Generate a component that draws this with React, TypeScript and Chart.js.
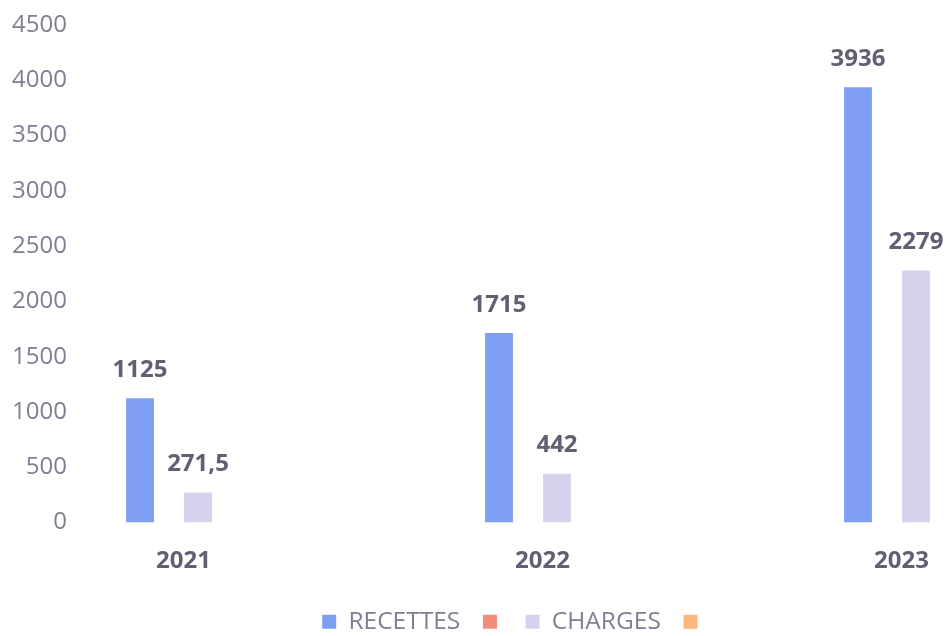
import React, { useEffect, useRef } from 'react';
import { Chart, registerables } from 'chart.js';

Chart.register(...registerables);

const categories = ['2021', '2022', '2023'];
const recettes = [1125, 1715, 3936];
const charges = [271.5, 442, 2279];
const emptySeries: (number | null)[] = [null, null, null];
const seriesNames = ['RECETTES  ', ' ', 'CHARGES  ', ''];
const seriesColors = ['#7d9ef3', '#f28c7d', '#d6d2ee', '#f9b67f'];
const yMin = 0;
const yMax = 4500;
const yStep = 500;

const FONT = "'Open Sans', 'DejaVu Sans', sans-serif";
const TICK_COLOR = '#7f7f92';
const LABEL_COLOR = '#606072';

const formatValue = (v: number) => String(v).replace('.', ',');

const dataLabelPlugin = {
  id: 'dataLabels',
  afterDatasetsDraw(chart: any) {
    const ctx = chart.ctx;
    ctx.save();
    ctx.font = `bold 24px ${FONT}`;
    ctx.fillStyle = LABEL_COLOR;
    ctx.textAlign = 'center';
    ctx.textBaseline = 'middle';
    chart.data.datasets.forEach((ds: any, di: number) => {
      const meta = chart.getDatasetMeta(di);
      meta.data.forEach((el: any, i: number) => {
        const raw = ds.data[i];
        const v = raw && raw.y;
        if (v === null || v === undefined) return;
        ctx.fillText(formatValue(v), el.x, el.y - 28);
      });
    });
    ctx.restore();
  },
};

export default function App() {
  const ref = useRef<HTMLCanvasElement | null>(null);

  useEffect(() => {
    if (!ref.current) return;
    const series = [recettes, emptySeries, charges, emptySeries];
    const chart = new Chart(ref.current, {
      type: 'bar',
      data: {
        datasets: series.map((vals, si) => ({
          label: seriesNames[si],
          data: vals.map((v, i) => ({ x: i, y: v })),
          backgroundColor: seriesColors[si],
          borderWidth: 0,
          categoryPercentage: 0.323,
          barPercentage: 0.96,
        })),
      },
      options: {
        animation: false,
        responsive: true,
        maintainAspectRatio: false,
        layout: { padding: { top: 0, bottom: 0, left: 0, right: 0 } },
        plugins: {
          tooltip: { enabled: false },
          legend: {
            position: 'bottom',
            labels: {
              boxWidth: 14,
              boxHeight: 14,
              padding: 10,
              color: TICK_COLOR,
              font: { family: FONT, size: 24.5 },
            },
          },
        },
        scales: {
          x: {
            type: 'linear',
            offset: false,
            min: -0.2883,
            max: 2.3635,
            grid: { display: false, offset: false, drawTicks: false },
            border: { display: false },
            afterBuildTicks: (axis: any) => {
              axis.ticks = categories.map((_, i) => ({ value: i }));
            },
            afterFit: (axis: any) => {
              axis.height = 77;
            },
            ticks: {
              callback: (v: any) => categories[v] ?? '',
              color: LABEL_COLOR,
              font: { family: FONT, size: 24, weight: 'bold' },
              padding: 24,
              maxRotation: 0,
              autoSkip: false,
            },
          },
          y: {
            min: yMin,
            max: yMax,
            grid: { display: false, drawTicks: false },
            border: { display: false },
            afterFit: (axis: any) => {
              axis.width = 80;
              axis.paddingTop = 25;
            },
            ticks: {
              stepSize: yStep,
              callback: (v: any) => String(v),
              color: TICK_COLOR,
              padding: 13,
              font: { family: FONT, size: 24 },
            },
          },
        },
      } as any,
      plugins: [dataLabelPlugin],
    });
    return () => chart.destroy();
  }, []);

  return (
    <div style={{ position: 'fixed', left: 0, top: 0, width: 1032, height: 644, background: '#fff' }}>
      <canvas ref={ref} />
    </div>
  );
}
